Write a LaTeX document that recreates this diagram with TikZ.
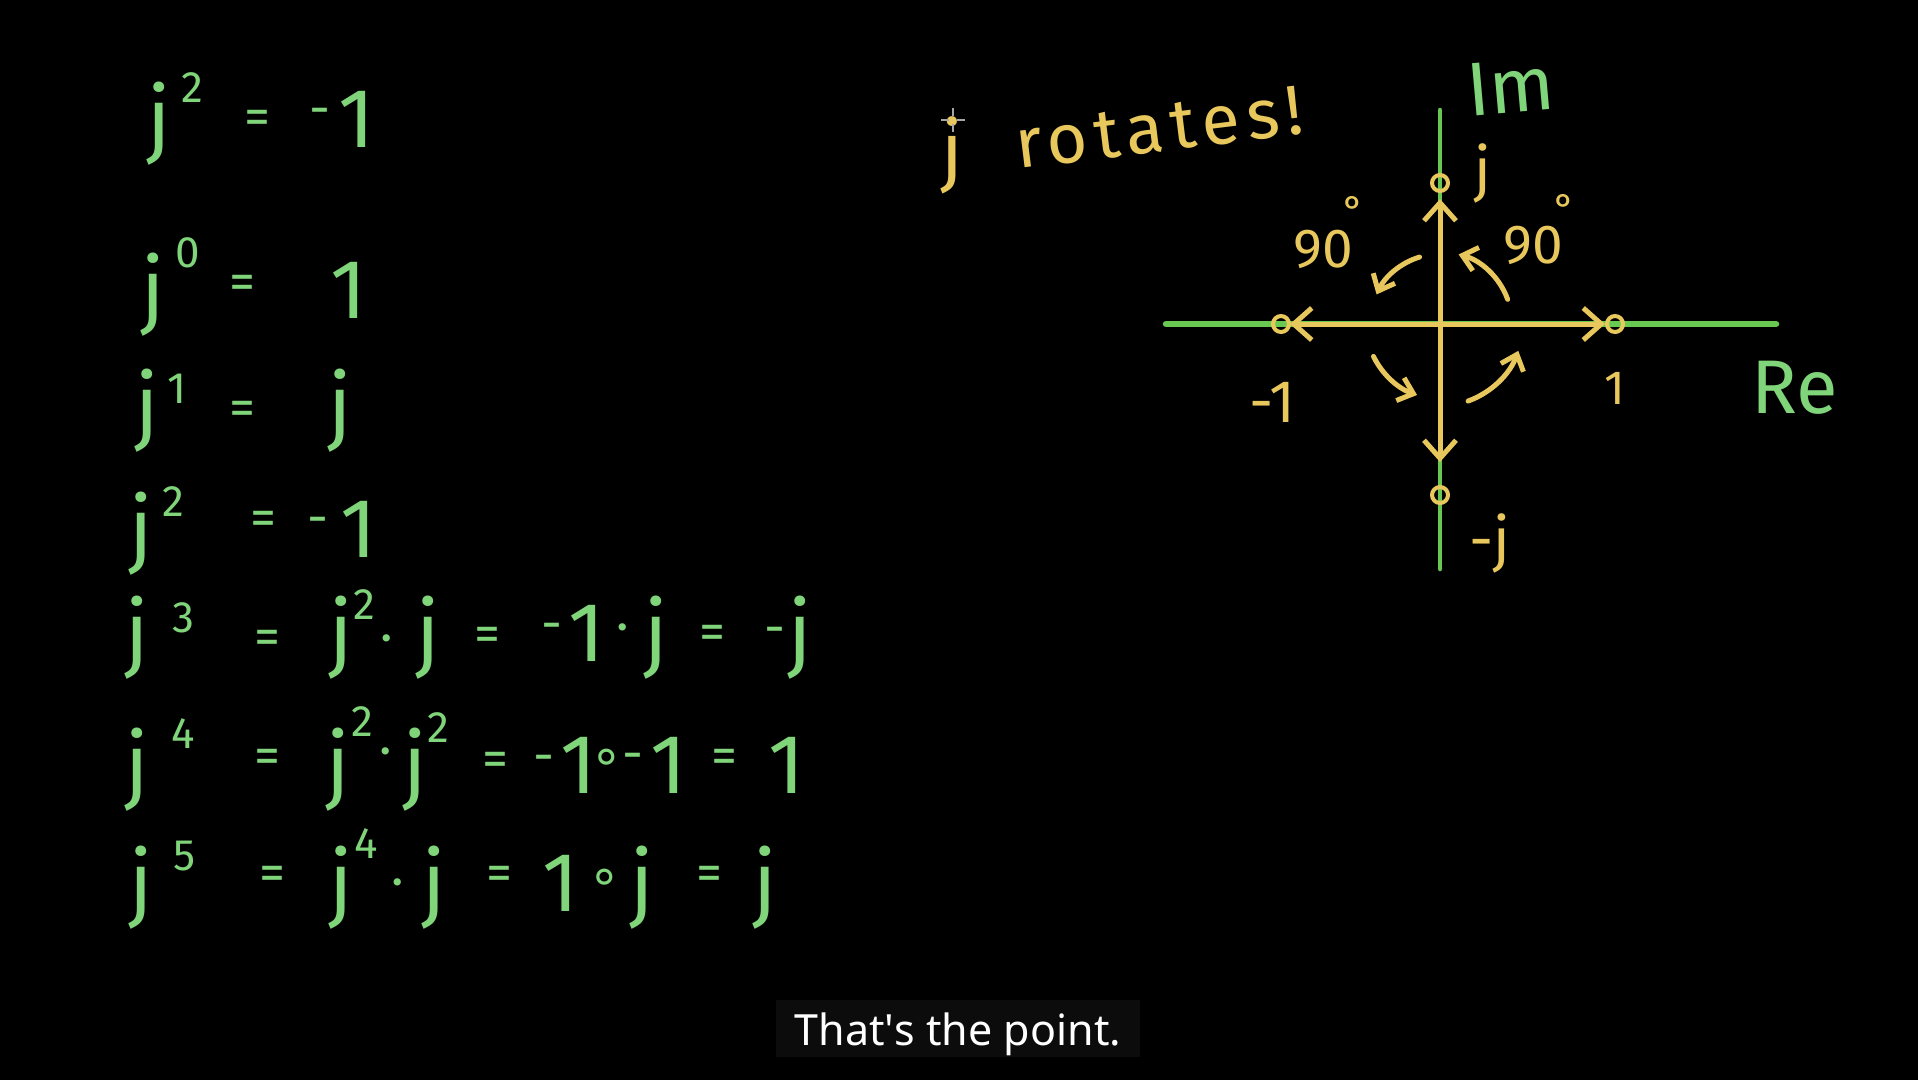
\documentclass[tikz,border=0pt]{standalone}
\usepackage{fontspec}
\setmainfont{Fira Sans}
\newfontfamily\capfont{Noto Sans}
\newfontfamily\symfont{DejaVu Sans}
\newfontfamily\spfont[LetterSpace=10]{Fira Sans}
\usetikzlibrary{arrows.meta}
\definecolor{eqg}{RGB}{128,212,122}
\definecolor{axg}{RGB}{104,200,82}
\definecolor{yel}{RGB}{232,200,92}
\definecolor{capbg}{RGB}{12,12,12}
\begin{document}
\begin{tikzpicture}[x=1pt,y=-1pt,
  big/.style={text=eqg, font=\fontsize{84}{84}\selectfont, anchor=base, inner sep=0pt},
  sup/.style={text=eqg, font=\fontsize{44}{44}\selectfont, anchor=center, inner sep=0pt},
  opr/.style={text=eqg, font=\fontsize{52}{52}\selectfont, anchor=base, yshift=-15pt, inner sep=0pt},
  lab/.style={text=yel, font=\fontsize{60}{60}\selectfont, anchor=base, inner sep=0pt},
  axl/.style={text=eqg, font=\fontsize{76}{76}\selectfont, anchor=base, inner sep=0pt},
  axis/.style={draw=axg, line width=5pt, line cap=round},
  vec/.style={draw=yel, line width=5pt, line cap=round,
    -{Straight Barb[length=18pt,width=32pt]}},
  rot/.style={draw=yel, line width=5pt, line cap=round,
    -{Straight Barb[length=14pt,width=24pt]}},
  pt/.style={circle, draw=yel, line width=4pt, minimum size=16pt, inner sep=0pt},
]
\fill[black] (0,0) rectangle (1918,1080);
\useasboundingbox (0,0) rectangle (1918,1080);

% ---------- row 1 : j^2 = -1
\foreach \x/\t [count=\i] in {159/j, 357/1} \node[big] (ra\i) at (\x,147) {\t};
\node[sup] (ras) at (192,88) {2};
\foreach \x/\y/\t [count=\i] in {257/119/=, 320/111/-} \node[opr] (rao\i) at (\x,\y) {\t};

% ---------- row 2 : j^0 = 1
\foreach \x/\t [count=\i] in {153/j, 349/1} \node[big] (rb\i) at (\x,318) {\t};
\node[sup] (rbs) at (188,253) {0};
\node[opr] (rbo) at (242,284) {=};

% ---------- row 3 : j^1 = j
\foreach \x/\t [count=\i] in {147/j, 340/j} \node[big] (rc\i) at (\x,434) {\t};
\node[sup] (rcs) at (177,389) {1};
\node[opr] (rco) at (242,410) {=};

% ---------- row 4 : j^2 = -1
\foreach \x/\t [count=\i] in {141/j, 359/1} \node[big] (rd\i) at (\x,557) {\t};
\node[sup] (rds) at (173,502) {2};
\foreach \x/\y/\t [count=\i] in {263/520/=, 318/520/-} \node[opr] (rdo\i) at (\x,\y) {\t};

% ---------- row 5 : j^3 = j^2 . j = -1 . j = -j
\foreach \x/\t [count=\i] in {137/j, 341/j, 428/j, 587/1, 656/j, 800/j} \node[big] (re\i) at (\x,661) {\t};
\foreach \x/\y/\t [count=\i] in {183/618/3, 364/605/2} \node[sup] (res\i) at (\x,\y) {\t};
\foreach \x/\y/\t [count=\i] in {267/639/=, 387/639/·, 487/636/=, 552/626/-, 623/628/·, 712/634/=, 775/630/-}
  \node[opr] (reo\i) at (\x,\y) {\t};

% ---------- row 6 : j^4 = j^2 . j^2 = -1 . -1 = 1
\foreach \x/\t [count=\i] in {137/j, 338/j, 415/j, 579/1, 669/1, 787/1} \node[big] (rf\i) at (\x,793) {\t};
\foreach \x/\y/\t [count=\i] in {183/734/4, 362/722/2, 438/728/2} \node[sup] (rfs\i) at (\x,\y) {\t};
\foreach \x/\y/\t [count=\i] in {267/758/=, 386/752/·, 495/761/=, 544/758/-, 607/758/{\symfont ∘}, 633/756/-, 724/758/=}
  \node[opr] (rfo\i) at (\x,\y) {\t};

% ---------- row 7 : j^5 = j^4 . j = 1 . j = j
\foreach \x/\t [count=\i] in {141/j, 341/j, 434/j, 561/1, 642/j, 765/j} \node[big] (rg\i) at (\x,911) {\t};
\foreach \x/\y/\t [count=\i] in {185/856/5, 366/844/4} \node[sup] (rgs\i) at (\x,\y) {\t};
\foreach \x/\y/\t [count=\i] in {272/875/=, 398/883/·, 499/875/=, 605/878/{\symfont ∘}, 709/875/=}
  \node[opr] (rgo\i) at (\x,\y) {\t};

% ---------- "j rotates!"
\node[text=yel, font=\fontsize{78}{78}\selectfont, anchor=base, inner sep=0pt] (jr) at (952,177) {j};
\node[text=yel, font=\spfont\fontsize{70}{70}\selectfont, anchor=base west, inner sep=0pt, rotate=7] (rot) at (1018,169) {rotates!};
% cursor
\draw[gray!70, line width=1.2pt] (941,120) -- (949,120) (957,120) -- (965,120)
  (953,108) -- (953,116) (953,124) -- (953,132);

% ---------- complex plane
\coordinate (O) at (1440,324);
\coordinate (xl) at (1166,324);
\coordinate (xr) at (1776,324);
\coordinate (yt) at (1440,110);
\coordinate (yb) at (1440,569);
\draw[axis, line width=6.5pt] (xl) -- (xr);
\draw[axis, line width=4.5pt] (yt) -- (yb);

\node[pt] (pj) at (1440,183) {};
\node[pt] (pmj) at (1440,495) {};
\node[pt] (pm1) at (1281,324) {};
\node[pt] (p1) at (1615,324) {};

\draw[vec, shorten >=16pt] (O) -- (pj.center);
\draw[vec, shorten >=10pt] (O) -- (p1.center);
\draw[vec, shorten >=9pt] (O) -- (pm1.center);
\draw[vec, shorten >=33pt] (O) -- (pmj.center);

\draw[rot] (O) ++(-20:72) arc[start angle=-20, end angle=-75, radius=72];
\draw[rot] (O) ++(-107:70) arc[start angle=-107, end angle=-155, radius=70];
\draw[rot] (O) ++(-206:74) arc[start angle=-206, end angle=-251, radius=76];
\draw[rot] (O) ++(-290:82) arc[start angle=-290, end angle=-340, radius=84];

\node[lab] (lj) at (1483,190) {j};
\node[lab] (lmj) at (1490,560) {-j};
\node[lab] (lm1) at (1272,422) {-1};
\node[lab, font=\fontsize{48}{48}\selectfont] (l1) at (1615,404) {1};
\node[lab, font=\fontsize{55}{55}\selectfont] (n1) at (1323,267) {90};
\node[text=yel, font=\fontsize{40}{40}\selectfont, anchor=north, inner sep=0pt] (d1) at (1354,196) {°};
\node[lab, font=\fontsize{55}{55}\selectfont] (n2) at (1533,263) {90};
\node[text=yel, font=\fontsize{40}{40}\selectfont, anchor=north, inner sep=0pt] (d2) at (1565,194) {°};

\node[axl, rotate=5] (im) at (1513,113) {Im};
\node[axl] (re) at (1795,413) {Re};

% ---------- caption
\node[fill=capbg, minimum width=364pt, minimum height=57pt, inner sep=0pt] (capbox) at (958,1028.5) {};
\node[text=white, font=\capfont\fontsize{43}{43}\selectfont, anchor=base, inner sep=0pt] (cap) at (958,1045) {That\textquotesingle s the point.};
\end{tikzpicture}
\end{document}
